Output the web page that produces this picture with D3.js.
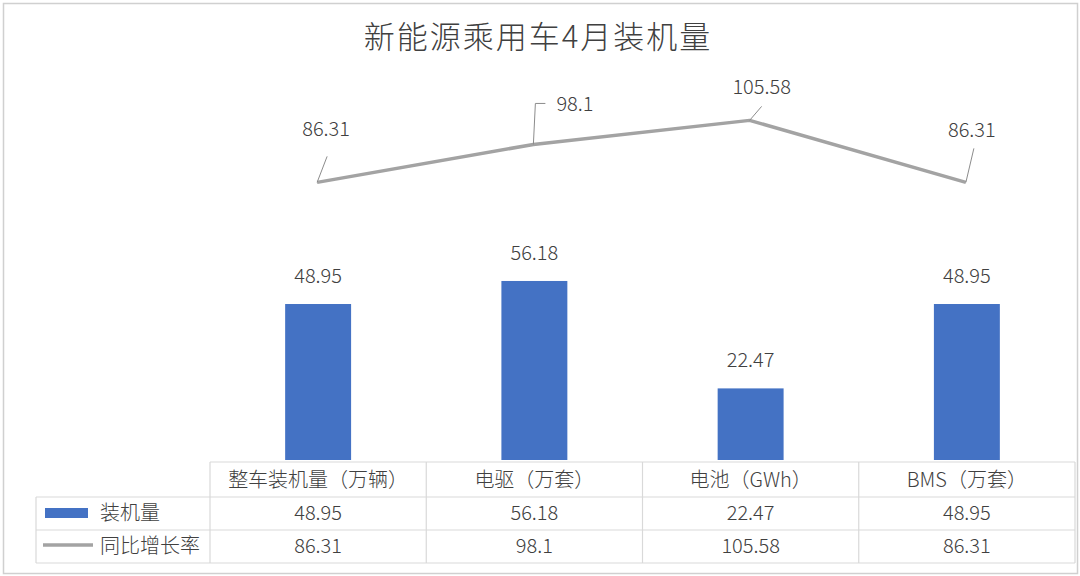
<!DOCTYPE html>
<html><head><meta charset="utf-8">
<script src="https://cdn.jsdelivr.net/npm/d3@7/dist/d3.min.js"></script>
<style>
html,body{margin:0;padding:0;background:#fff;}
svg text{font-family:"Noto Sans CJK SC","Noto Sans",sans-serif;fill:#404040;font-weight:300;}
</style></head>
<body>
<svg id="c" width="1080" height="576"></svg>
<script>
const title = "新能源乘用车4月装机量";
const categories = ["整车装机量（万辆）", "电驱（万套）", "电池（GWh）", "BMS（万套）"];
const seriesNames = ["装机量", "同比增长率"];
const barValues = [48.95, 56.18, 22.47, 48.95];
const lineValues = [86.31, 98.1, 105.58, 86.31];
const barLabels = ["48.95", "56.18", "22.47", "48.95"];
const lineLabels = ["86.31", "98.1", "105.58", "86.31"];
// label leader styling offsets (dx, dy of leader end relative to point; label anchor)
const leaderStyle = [
  {lx:10, ly:-26, tx:9, ty:-46, anchor:"middle", elbow:false},
  {lx:2, ly:-41, tx:23, ty:-33, anchor:"start", elbow:true},
  {lx:12, ly:-14, tx:12, ty:-26, anchor:"middle", elbow:false},
  {lx:8, ly:-34, tx:6, ty:-45, anchor:"middle", elbow:false}
];

const svg = d3.select("#c");
const W = 1080, H = 576;
const barColor = "#4472c4", lineColor = "#a3a3a3", gridColor = "#d9d9d9";

// outer frame
svg.append("rect").attr("x", 3.5).attr("y", 3.5).attr("width", W - 6).attr("height", H - 6)
  .attr("fill", "#fff").attr("stroke", "#d0d0d0").attr("stroke-width", 1.5);

svg.append("text").attr("x", 538).attr("y", 48).attr("text-anchor", "middle")
  .style("font-size", "31px").style("letter-spacing", "2px").style("fill", "#404040").text(title);

const x = d3.scaleBand().domain(categories).range([210, 1075]).padding(0);
const xb = d3.scaleBand().domain(categories).range([210, 1075]).paddingInner(0.695).paddingOuter(0.3475);
const y = d3.scaleLinear().domain([0, 60]).range([460, 268.8]);
const y2 = d3.scaleLinear().domain([0, 120]).range([460, 74]);

// bars
svg.append("g").selectAll("rect").data(categories).join("rect")
  .attr("x", d => xb(d)).attr("width", xb.bandwidth())
  .attr("y", (d, i) => y(barValues[i])).attr("height", (d, i) => y(0) - y(barValues[i]))
  .attr("fill", barColor);
svg.append("g").selectAll("text").data(categories).join("text")
  .attr("x", d => xb(d) + xb.bandwidth() / 2).attr("y", (d, i) => y(barValues[i]) - 21)
  .attr("text-anchor", "middle").style("font-size", "20px").text((d, i) => barLabels[i]);

// line
const pts = categories.map((c, i) => [xb(c) + xb.bandwidth() / 2 - 1, y2(lineValues[i])]);
svg.append("path").attr("d", d3.line()(pts)).attr("fill", "none")
  .attr("stroke", lineColor).attr("stroke-width", 3.5).attr("stroke-linejoin", "round");
const lg = svg.append("g");
pts.forEach((p, i) => {
  const s = leaderStyle[i];
  let d = `M${p[0]},${p[1]}L${p[0] + s.lx},${p[1] + s.ly}`;
  if (s.elbow) d += `L${p[0] + s.lx + 10},${p[1] + s.ly}`;
  lg.append("path").attr("d", d).attr("fill", "none").attr("stroke", "#8c8c8c").attr("stroke-width", 1);
  lg.append("text").attr("x", p[0] + s.tx).attr("y", p[1] + s.ty).attr("text-anchor", s.anchor)
    .style("font-size", "20px").text(lineLabels[i]);
});

// data table
const rowY = [462, 497, 530, 563];
const tg = svg.append("g");
const tx0 = x.range()[0], tx1 = x.range()[1];
tg.append("line").attr("x1", tx0).attr("x2", tx1).attr("y1", rowY[0]).attr("y2", rowY[0]);
[1, 2, 3].forEach(r => tg.append("line").attr("x1", 36).attr("x2", tx1).attr("y1", rowY[r]).attr("y2", rowY[r]));
categories.forEach(c => tg.append("line").attr("x1", x(c)).attr("x2", x(c)).attr("y1", rowY[0]).attr("y2", rowY[3]));
tg.append("line").attr("x1", tx1).attr("x2", tx1).attr("y1", rowY[0]).attr("y2", rowY[3]);
tg.append("line").attr("x1", 36).attr("x2", 36).attr("y1", rowY[1]).attr("y2", rowY[3]);
tg.selectAll("line").attr("stroke", gridColor).attr("stroke-width", 1.2);

categories.forEach((c, i) => {
  const cx = x(c) + x.bandwidth() / 2;
  tg.append("text").attr("x", cx).attr("y", 487).attr("text-anchor", "middle").style("font-size", "20px").text(c);
  tg.append("text").attr("x", cx).attr("y", 520).attr("text-anchor", "middle").style("font-size", "20px").text(barLabels[i]);
  tg.append("text").attr("x", cx).attr("y", 553).attr("text-anchor", "middle").style("font-size", "20px").text(lineLabels[i]);
});
tg.append("rect").attr("x", 45).attr("y", 508).attr("width", 43).attr("height", 10).attr("fill", barColor);
tg.append("line").attr("x1", 43).attr("x2", 93).attr("y1", 545).attr("y2", 545).attr("stroke", lineColor).attr("stroke-width", 3.5);
tg.append("text").attr("x", 100).attr("y", 520).style("font-size", "20px").text(seriesNames[0]);
tg.append("text").attr("x", 100).attr("y", 553).style("font-size", "20px").text(seriesNames[1]);
</script>
</body></html>
